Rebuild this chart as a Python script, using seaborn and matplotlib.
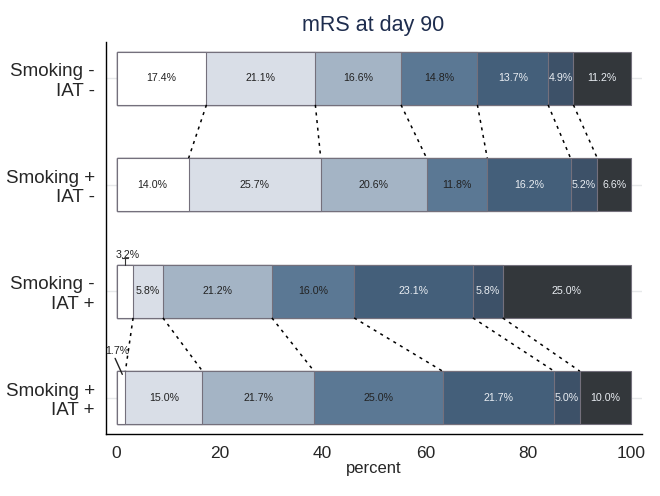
import numpy as np
import matplotlib
matplotlib.use("Agg")
import matplotlib.pyplot as plt
import pandas as pd
import seaborn as sns

# data
groups = ["Smoking -\nIAT -", "Smoking +\nIAT -", "Smoking -\nIAT +", "Smoking +\nIAT +"]
mrs_levels = ["0", "1", "2", "3", "4", "5", "6"]
smk_no_iat_no = [17.4, 21.1, 16.6, 14.8, 13.7, 4.9, 11.2]
smk_yes_iat_no = [14.0, 25.7, 20.6, 11.8, 16.2, 5.2, 6.6]
smk_no_iat_yes = [3.2, 5.8, 21.2, 16.0, 23.1, 5.8, 25.0]
smk_yes_iat_yes = [1.7, 15.0, 21.7, 25.0, 21.7, 5.0, 10.0]
xticks = [0, 20, 40, 60, 80, 100]

colors = ["#ffffff", "#d9dee7", "#a4b4c5", "#5b7894", "#445f7a", "#3d5168", "#33373b"]
text_colors = ["#222222", "#222222", "#222222", "#222222", "#e9edf2", "#e9edf2", "#e9edf2"]

sns.set_style("white")
plt.rcParams['font.family'] = ['Liberation Sans', 'DejaVu Sans']

vals = np.array([smk_no_iat_no, smk_yes_iat_no, smk_no_iat_yes, smk_yes_iat_yes])
# rounded percentages -> rescale so every bar ends at 100
cum = vals.cumsum(axis=1)
cum = cum / cum[:, -1:] * 100
df = pd.DataFrame(cum, columns=mrs_levels)
df["group"] = groups

fig = plt.figure(figsize=(6.6, 4.96), dpi=100)
ax = fig.add_axes([106/660, 1-434/496, 536/660, (434-42)/496])

# light gridlines through the bar centres
for i in range(len(groups)):
    ax.axhline(i, color="#e6e8ea", lw=1, zorder=0)

# stacked bars: draw cumulative totals from the last level back to the first
for k in reversed(range(len(mrs_levels))):
    sns.barplot(data=df, x=mrs_levels[k], y="group", orient="h", color=colors[k],
                saturation=1, width=0.5, edgecolor="#74707c", linewidth=0.8,
                ax=ax, zorder=2)

# segment labels
for i in range(len(groups)):
    for k in range(len(mrs_levels)):
        v = vals[i, k]
        lo = cum[i, k - 1] if k > 0 else 0
        mid = (lo + cum[i, k]) / 2
        if v < 4:
            continue
        ax.text(mid, i, f"{v:.1f}%", ha="center", va="center", fontsize=7.7,
                color=text_colors[k], zorder=4)

# small segments labelled outside the bars
ax.text(2.1, 1.66, f"{vals[2, 0]:.1f}%", ha="center", va="center", fontsize=7.7, color="#222222")
ax.plot([1.6, 1.6], [1.69, 1.75], color="#333333", lw=0.8)
ax.plot([1.0, 2.2], [1.69, 1.69], color="#333333", lw=0.8)
ax.text(0.2, 2.56, f"{vals[3, 0]:.1f}%", ha="center", va="center", fontsize=7.7, color="#222222")
ax.plot([-0.3, 1.1], [2.63, 2.78], color="#222222", lw=1)

# dotted connectors between the compared rows
for a, b in [(0, 1), (2, 3)]:
    for k in range(len(mrs_levels) - 1):
        ax.plot([cum[a, k], cum[b, k]], [a + 0.25, b - 0.25], color="black",
                lw=1.1, ls=(0, (2, 3)), zorder=3)

ax.set_xlim(-2.07, 102.1)
ax.set_ylim(3.34, -0.34)
ax.set_xticks(xticks)
ax.set_xticklabels([str(t) for t in xticks], fontsize=12.5)
ax.tick_params(axis="x", length=6, width=1, color="black", direction="out", pad=3)
ax.tick_params(axis="y", length=0, labelsize=13.5, pad=8)
ax.set_xlabel("percent", fontsize=12, labelpad=0)
ax.set_ylabel("")
for lab in ax.get_yticklabels():
    lab.set_horizontalalignment("right")
    lab.set_multialignment("right")
sns.despine(ax=ax)
ax.spines["left"].set_color("black")
ax.spines["bottom"].set_color("black")
ax.spines["left"].set_linewidth(1)
ax.spines["bottom"].set_linewidth(1)

fig.text(373/660, 1-25/496, "mRS at day 90", ha="center", va="center",
         fontsize=15.5, color="#1e2d4e")

fig.savefig("out.png", dpi=100)
